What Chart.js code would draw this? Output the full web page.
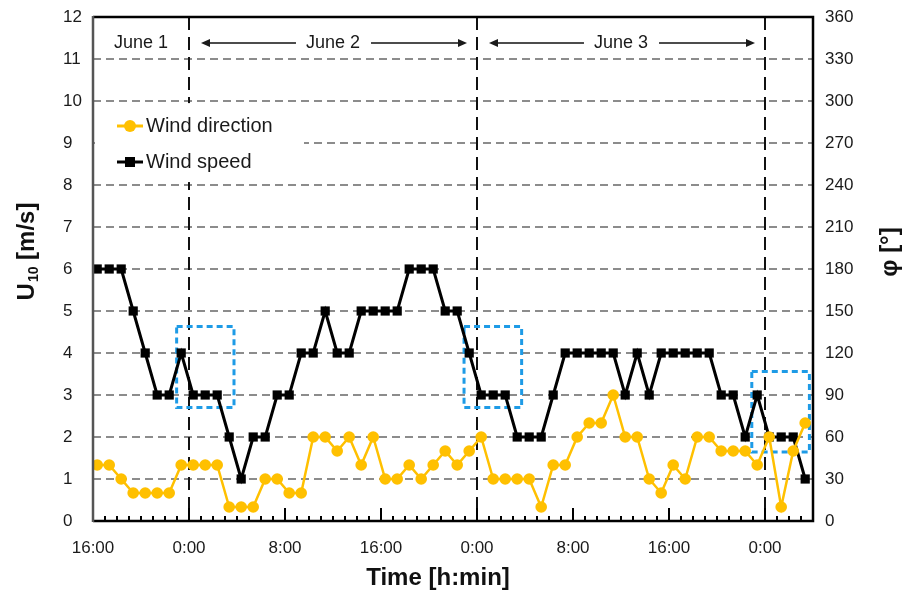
<!DOCTYPE html>
<html>
<head>
<meta charset="utf-8">
<script src="https://cdn.jsdelivr.net/npm/chart.js@4.4.1/dist/chart.umd.min.js"></script>
<style>
  html, body { margin: 0; padding: 0; background: #fff; }
  canvas { display: block; }
</style>
</head>
<body>
<canvas id="chart" width="907" height="601"></canvas>
<script>
// hourly samples, x = hours after 16:00 on June 1 (first sample a little after 16:00)
const firstSample = 0.35;
const windSpeed = [6, 6, 6, 5, 4, 3, 3, 4, 3, 3, 3, 2, 1, 2, 2, 3, 3, 4, 4, 5,
                   4, 4, 5, 5, 5, 5, 6, 6, 6, 5, 5, 4, 3, 3, 3, 2, 2, 2, 3, 4,
                   4, 4, 4, 4, 3, 4, 3, 4, 4, 4, 4, 4, 3, 3, 2, 3, 2, 2, 2, 1];
const windDirection = [40, 40, 30, 20, 20, 20, 20, 40, 40, 40, 40, 10, 10, 10, 30, 30, 20, 20, 60, 60,
                       50, 60, 40, 60, 30, 30, 40, 30, 40, 50, 40, 50, 60, 30, 30, 30, 30, 10, 40, 40,
                       60, 70, 70, 90, 60, 60, 30, 20, 40, 30, 60, 60, 50, 50, 50, 40, 60, 10, 50, 70];

const timeTicks = [0, 8, 16, 24, 32, 40, 48, 56];
const tickLabels = ['16:00', '0:00', '8:00', '16:00', '0:00', '8:00', '16:00', '0:00'];
const midnights = [8, 32, 56];
const days = [
  { text: 'June 1', from: 0, to: 8, arrows: false },
  { text: 'June 2', from: 8, to: 32, arrows: true },
  { text: 'June 3', from: 32, to: 56, arrows: true }
];
// highlighted periods (hours, wind speed units)
const boxes = [
  { from: 6.97, to: 11.75, low: 2.70, high: 4.63 },
  { from: 30.92, to: 35.72, low: 2.70, high: 4.63 },
  { from: 54.9, to: 59.7, low: 1.64, high: 3.56 }
];

const FONT = "'Liberation Sans', Arial, sans-serif";
const TXT = '#1a1a1a';
const ORANGE = '#FFC000';

function arrow(ctx, x1, x2, y) {
  const dir = Math.sign(x2 - x1);
  ctx.beginPath();
  ctx.moveTo(x1, y);
  ctx.lineTo(x2 - dir * 7, y);
  ctx.stroke();
  ctx.beginPath();
  ctx.moveTo(x2, y);
  ctx.lineTo(x2 - dir * 9, y - 4);
  ctx.lineTo(x2 - dir * 9, y + 4);
  ctx.closePath();
  ctx.fill();
}

const extras = {
  id: 'extras',
  beforeDatasetsDraw(chart) {
    const { ctx, chartArea: a, scales: { x, y } } = chart;
    ctx.save();
    // midnight separators
    ctx.strokeStyle = '#111';
    ctx.lineWidth = 2;
    ctx.setLineDash([13, 7]);
    midnights.forEach(h => {
      const px = Math.round(x.getPixelForValue(h));
      ctx.beginPath();
      ctx.moveTo(px, a.top);
      ctx.lineTo(px, a.bottom);
      ctx.stroke();
    });
    // highlight boxes
    ctx.strokeStyle = '#1E9BE6';
    ctx.lineWidth = 3;
    ctx.setLineDash([6, 4]);
    boxes.forEach(b => {
      const x1 = x.getPixelForValue(b.from), x2 = x.getPixelForValue(b.to);
      const y1 = y.getPixelForValue(b.high), y2 = y.getPixelForValue(b.low);
      ctx.strokeRect(x1, y1, x2 - x1, y2 - y1);
    });
    // legend background (hides the 9 grid line behind the legend)
    ctx.setLineDash([]);
    ctx.fillStyle = '#fff';
    const top = y.getPixelForValue(9.95), bottom = y.getPixelForValue(8.07);
    ctx.fillRect(a.left + 2, top, 209, bottom - top);
    ctx.restore();
  },
  afterDraw(chart) {
    const { ctx, chartArea: a, scales: { x } } = chart;
    ctx.save();
    // frame
    ctx.lineWidth = 2.5;
    ctx.strokeStyle = '#000';
    ctx.beginPath();
    ctx.moveTo(a.left, a.top);
    ctx.lineTo(a.right, a.top);
    ctx.lineTo(a.right, a.bottom);
    ctx.lineTo(a.left, a.bottom);
    ctx.stroke();
    ctx.strokeStyle = '#555';
    ctx.beginPath();
    ctx.moveTo(a.left, a.top - 1);
    ctx.lineTo(a.left, a.bottom + 1);
    ctx.stroke();
    // hour ticks on the time axis
    ctx.strokeStyle = '#000';
    ctx.lineWidth = 2;
    for (let h = 1; h < 60; h++) {
      const px = Math.round(x.getPixelForValue(h));
      const len = h % 8 === 0 ? 13 : 5;
      ctx.beginPath();
      ctx.moveTo(px, a.bottom);
      ctx.lineTo(px, a.bottom - len);
      ctx.stroke();
    }
    // day labels
    ctx.fillStyle = TXT;
    ctx.strokeStyle = '#111';
    ctx.lineWidth = 1.5;
    ctx.font = '18px ' + FONT;
    ctx.textAlign = 'center';
    ctx.textBaseline = 'middle';
    const ly = 43;
    days.forEach(d => {
      const p1 = x.getPixelForValue(d.from), p2 = x.getPixelForValue(d.to);
      const cx = (p1 + p2) / 2;
      ctx.fillText(d.text, cx, ly);
      if (d.arrows) {
        const hw = ctx.measureText(d.text).width / 2;
        arrow(ctx, cx - hw - 10, p1 + 12, ly);
        arrow(ctx, cx + hw + 11, p2 - 10, ly);
      }
    });
    // legend
    ctx.textAlign = 'left';
    ctx.font = '20px ' + FONT;
    ctx.lineWidth = 3;
    ctx.strokeStyle = ORANGE;
    ctx.beginPath(); ctx.moveTo(117, 126); ctx.lineTo(143, 126); ctx.stroke();
    ctx.fillStyle = ORANGE;
    ctx.beginPath(); ctx.arc(130, 126, 6, 0, Math.PI * 2); ctx.fill();
    ctx.strokeStyle = '#000';
    ctx.beginPath(); ctx.moveTo(117, 162); ctx.lineTo(143, 162); ctx.stroke();
    ctx.fillStyle = '#000';
    ctx.fillRect(125, 157, 10, 10);
    ctx.fillStyle = TXT;
    ctx.fillText('Wind direction', 146, 126);
    ctx.fillText('Wind speed', 146, 162);
    // axis titles
    ctx.fillStyle = '#111';
    ctx.font = 'bold 24px ' + FONT;
    ctx.textAlign = 'center';
    ctx.fillText('Time [h:min]', 438, 578);
    // left title with subscript
    ctx.save();
    ctx.translate(25, 252);
    ctx.rotate(-Math.PI / 2);
    ctx.textAlign = 'left';
    ctx.textBaseline = 'alphabetic';
    const big = 'bold 24px ' + FONT, small = 'bold 14px ' + FONT;
    ctx.font = big; const wU = ctx.measureText('U').width;
    const wR = ctx.measureText(' [m/s]').width;
    ctx.font = small; const wS = ctx.measureText('10').width;
    let sx = -(wU + wS + wR) / 2;
    ctx.font = big; ctx.fillText('U', sx, 9); sx += wU;
    ctx.font = small; ctx.fillText('10', sx + 1, 13); sx += wS + 1;
    ctx.font = big; ctx.fillText(' [m/s]', sx, 9);
    ctx.restore();
    // right title
    ctx.save();
    ctx.translate(890, 252);
    ctx.rotate(-Math.PI / 2);
    ctx.font = big;
    ctx.textAlign = 'center';
    ctx.textBaseline = 'middle';
    ctx.fillText('φ [°]', 0, 0);
    ctx.restore();
    ctx.restore();
  }
};

const tickFont = { family: FONT, size: 17 };
const noPad = s => { s.paddingTop = 0; s.paddingBottom = 0; };

new Chart(document.getElementById('chart'), {
  type: 'line',
  data: {
    datasets: [
      {
        label: 'Wind direction',
        yAxisID: 'y1',
        data: windDirection.map((v, i) => ({ x: firstSample + i, y: v })),
        borderColor: ORANGE,
        backgroundColor: ORANGE,
        borderWidth: 2.5,
        pointStyle: 'circle',
        pointRadius: 5.8,
        pointBorderWidth: 0,
        tension: 0
      },
      {
        label: 'Wind speed',
        yAxisID: 'y',
        data: windSpeed.map((v, i) => ({ x: firstSample + i, y: v })),
        borderColor: '#000',
        backgroundColor: '#000',
        borderWidth: 3,
        pointStyle: 'rect',
        pointRadius: 6.5,
        pointBorderWidth: 0,
        tension: 0
      }
    ]
  },
  options: {
    responsive: false,
    animation: false,
    layout: { padding: { top: 17, left: 63, right: 0, bottom: 0 } },
    plugins: { legend: { display: false }, tooltip: { enabled: false } },
    scales: {
      x: {
        type: 'linear',
        min: 0,
        max: 60,
        grid: { display: false, drawTicks: false },
        border: { display: false },
        afterBuildTicks: s => { s.ticks = timeTicks.map(v => ({ value: v })); },
        afterFit: s => { s.height = 80; },
        ticks: {
          autoSkip: false,
          maxRotation: 0,
          padding: 17,
          color: TXT,
          font: tickFont,
          callback: v => tickLabels[timeTicks.indexOf(v)]
        }
      },
      y: {
        position: 'left',
        min: 0,
        max: 12,
        afterFit: s => { s.width = 30; noPad(s); },
        ticks: { stepSize: 1, crossAlign: 'far', color: TXT, font: tickFont },
        grid: {
          drawTicks: false,
          lineWidth: 2,
          color: c => (c.tick.value === 0 || c.tick.value === 12) ? 'rgba(0,0,0,0)' : '#8c8c8c'
        },
        border: { display: false, dash: [8, 5] }
      },
      y1: {
        position: 'right',
        min: 0,
        max: 360,
        afterFit: s => { s.width = 94; noPad(s); },
        ticks: { stepSize: 30, padding: 12, color: TXT, font: tickFont },
        grid: { display: false, drawTicks: false },
        border: { display: false }
      }
    }
  },
  plugins: [extras]
});
</script>
</body>
</html>
